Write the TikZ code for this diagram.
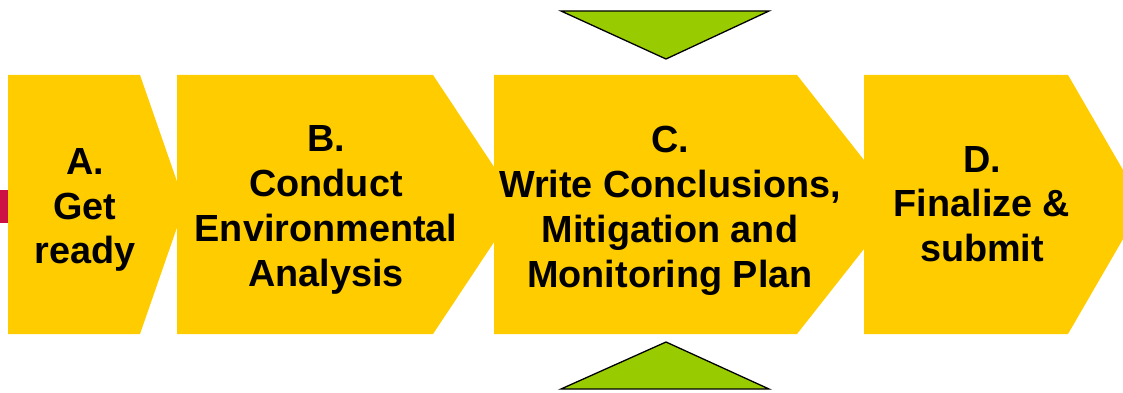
\documentclass[tikz,border=0pt]{standalone}
\usepackage{fontspec}
\setmainfont{Liberation Sans}
\definecolor{chevyellow}{HTML}{FFCC00}
\definecolor{trigreen}{HTML}{99CC00}
\definecolor{markred}{HTML}{CC1144}
\tikzset{
  chev/.style={fill=chevyellow, draw=none},
  tri/.style={fill=trigreen, draw=black, line width=1.3pt, line join=miter},
  lbl/.style={align=center, inner sep=0pt, font=\fontsize{37.8}{44.8}\selectfont\bfseries, text=black}
}
\begin{document}
\begin{tikzpicture}[x=1pt, y=-1pt]
\useasboundingbox (0,0) rectangle (1123,393);
\begin{scope}
\clip (0,0) rectangle (1123,393);
% red marker
\fill[markred] (0,190) rectangle (8,223);
% chevrons
\path[chev] (8,75) -- (140,75) -- (185,204.5) -- (140,334) -- (8,334) -- cycle;
\path[chev] (177,75) -- (433,75) -- (519,204.5) -- (433,334) -- (177,334) -- cycle;
\path[chev] (494,75) -- (797,75) -- (899,204.5) -- (797,334) -- (494,334) -- cycle;
\path[chev] (864,75) -- (1068,75) -- (1143,204.5) -- (1068,334) -- (864,334) -- cycle;
\end{scope}
% triangles
\draw[tri] (561,11) -- (769,11) -- (666,59) -- cycle;
\draw[tri] (666,342) -- (769,389) -- (561,389) -- cycle;
% labels
\node[lbl] (a) at (85,210) {A.\\Get\\ready};
\node[lbl] (b) at (326,210) {B.\\Conduct\\Environmental\\Analysis};
\node[lbl] (c) at (670,211) {C.\\Write Conclusions,\\Mitigation and\\Monitoring Plan};
\node[lbl] (d) at (982,204) {D.\\Finalize \&\\submit};
\end{tikzpicture}
\end{document}
